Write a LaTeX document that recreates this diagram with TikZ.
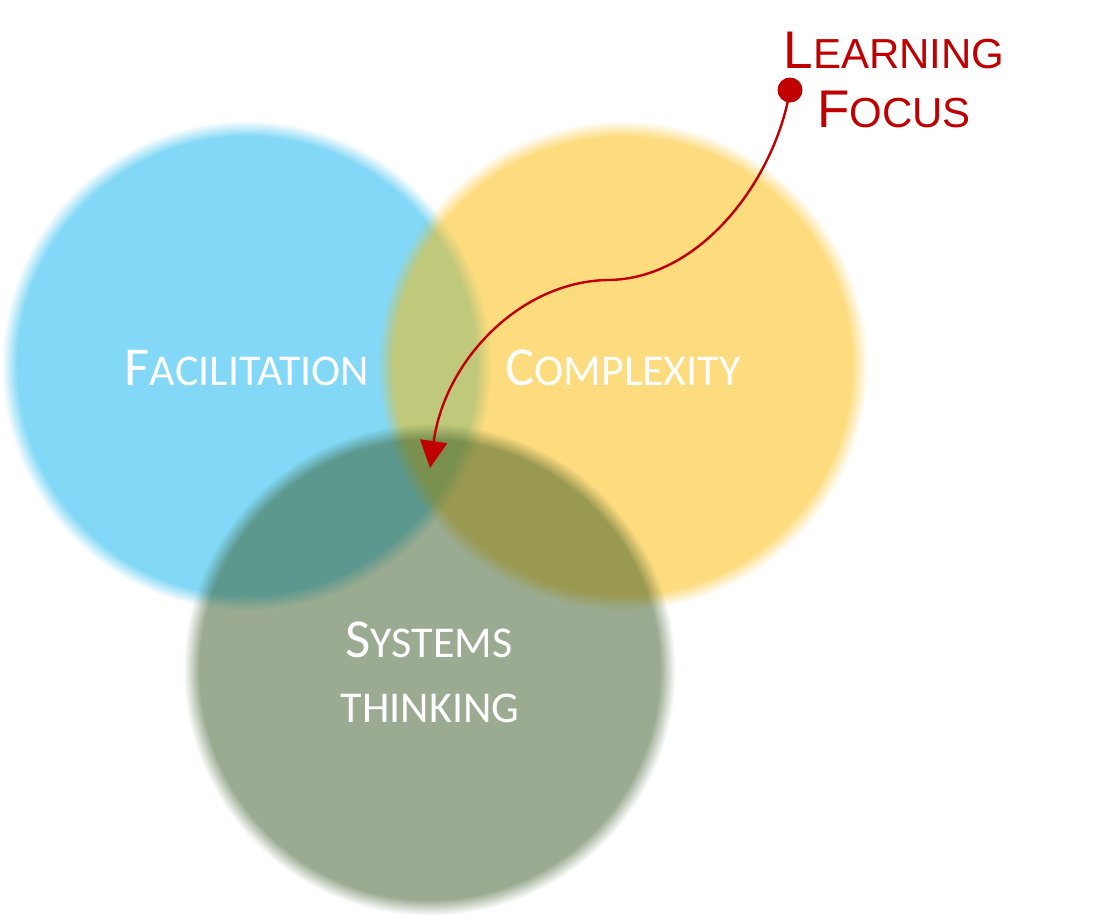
\documentclass[tikz,border=0pt]{standalone}
\usepackage{fontspec}
\usetikzlibrary{arrows.meta}
\newfontfamily\calib{Carlito}
\newfontfamily\arialf{Liberation Sans}
\definecolor{cblue}{RGB}{130,216,246}
\definecolor{cyellow}{RGB}{253,185,1}
\definecolor{cgreen}{RGB}{55,89,37}
\definecolor{lred}{RGB}{192,0,0}
\newcommand\softdisc[5]{% colour, x, y, r, group opacity
  \begin{scope}[transparency group, opacity=#5]
    \foreach \k in {1,...,14}{%
      \pgfmathsetmacro\op{1/(15-\k)}%
      \pgfmathsetmacro\rr{#4+8-(\k-0.5)*16/14}%
      \fill[#1, fill opacity=\op] (#2,#3) circle[radius=\rr pt];
    }
  \end{scope}}
\newcommand\scc[2]{{\fontsize{55}{55}\selectfont #1}{\fontsize{44}{44}\selectfont #2}}
\newcommand\scr[2]{{\fontsize{53}{53}\selectfont #1}{\fontsize{42}{42}\selectfont #2}}
\tikzset{
  lab/.style={text=white, anchor=base, inner sep=0pt, font=\calib},
  lfoc/.style={text=lred, anchor=base, inner sep=0pt, font=\arialf},
  curvy/.style={draw=lred, line width=2.4pt, -{Triangle[length=27pt,width=27pt]}},
  dotnode/.style={circle, fill=lred, inner sep=0pt, minimum size=25pt}
}
\begin{document}
\begin{tikzpicture}[x=1pt,y=-1pt]
\useasboundingbox (0,0) rectangle (1101,919);
\fill[white] (0,0) rectangle (1101,919);
\softdisc{cblue}{247}{366}{237}{1}
\softdisc{cyellow}{623}{366}{237}{0.5}
\softdisc{cgreen}{430}{670}{238}{0.5}
\node[lab] (fac) at (247,385) {\scc{F}{ACILITATION}};
\node[lab] (com) at (623,385) {\scc{C}{OMPLEXITY}};
\node[lab] (sys) at (429,657) {\scc{S}{YSTEMS}};
\node[lab] (thi) at (430,722) {\scc{}{THINKING}};
\node[lfoc] (lea) at (894,68) {\scr{L}{EARNING}};
\node[lfoc] (foc) at (894,127) {\scr{F}{OCUS}};
\node[dotnode] (dot) at (790,90) {};
\coordinate (tip) at (430,468);
\draw[curvy] (dot.center) .. controls (775,180) and (700,280) .. (607,280)
  .. controls (520,282) and (445,360) .. (tip);
\end{tikzpicture}
\end{document}
